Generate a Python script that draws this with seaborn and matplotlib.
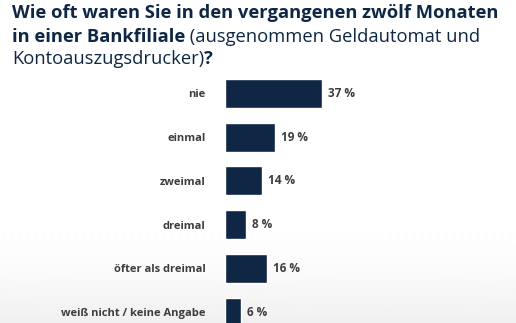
import matplotlib
matplotlib.use("Agg")
import matplotlib.pyplot as plt
import seaborn as sns
import pandas as pd
import numpy as np

categories = ["nie", "einmal", "zweimal", "dreimal", "öfter als dreimal", "weiß nicht / keine Angabe"]
values = [37, 19, 14, 8, 16, 6]
value_labels = ["37 %", "19 %", "14 %", "8 %", "16 %", "6 %"]

BAR = "#0f2745"
TITLE_C = "#0f2745"
LABEL_C = "#3d3d3d"

sns.set_theme(style="white")
plt.rcParams['font.family'] = ['Open Sans', 'DejaVu Sans']

W, H = 516, 323
fig = plt.figure(figsize=(W / 100, H / 100), dpi=100)
fig.patch.set_facecolor("white")

# subtle background gradient at the bottom
bg = fig.add_axes([0, 0, 1, 1], zorder=-10)
rows = np.arange(H)
t = np.clip((rows - 200) / (H - 200), 0, 1) ** 2
grad = 1 - 0.06 * t[:, None] * np.ones((1, 2))
bg.imshow(grad, cmap="gray", vmin=0, vmax=1, aspect="auto", extent=[0, 1, 0, 1],
          origin="upper", interpolation="bilinear")
bg.set_axis_off()

ax = fig.add_axes([225 / W, 0, 275 / W, (H - 75) / H])
ax.set_facecolor("none")
df = pd.DataFrame({"cat": categories, "val": values})
sns.barplot(data=df, x="val", y="cat", color=BAR, saturation=1, width=0.66, ax=ax, orient="h")
ax.set_ylim(5.25, -0.423)
ax.set_xlim(0, 105)
for s in ax.spines.values():
    s.set_visible(False)
ax.set_xticks([])
ax.set_xlabel("")
ax.set_ylabel("")
ax.tick_params(axis="y", length=0, pad=14)
for lbl in ax.get_yticklabels():
    lbl.set_fontweight("bold")
    lbl.set_color(LABEL_C)
    lbl.set_fontsize(8)
ax.bar_label(ax.containers[0], labels=value_labels, padding=4.5, fontweight="bold",
             color=LABEL_C, fontsize=8.5)

# title with mixed weights
fs = 13.2
renderer = fig.canvas.get_renderer()

def put(parts, x_px, y_px):
    x = x_px
    for txt, w in parts:
        t = fig.text(x / W, 1 - y_px / H, txt, fontsize=fs, fontweight=w, color=TITLE_C,
                     ha="left", va="baseline")
        bb = t.get_window_extent(renderer=renderer)
        x += bb.width

put([("Wie oft waren Sie in den vergangenen zwölf Monaten", "bold")], 12, 18.5)
put([("in einer Bankfiliale", "bold"), (" (ausgenommen Geldautomat und", "normal")], 12, 41.5)
put([("Kontoauszugsdrucker)", "normal"), ("?", "bold")], 12, 64)

fig.savefig("out.png", dpi=100)
